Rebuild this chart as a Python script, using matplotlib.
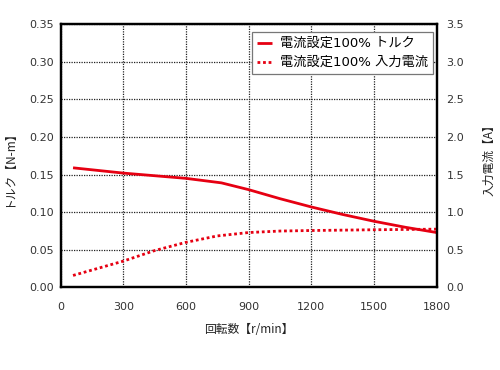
import matplotlib
matplotlib.use("Agg")
import matplotlib.pyplot as plt
from matplotlib.ticker import FixedLocator, FormatStrFormatter

plt.rcParams['font.family'] = ['Noto Sans CJK JP', 'DejaVu Sans']

# Data
speed_torque = [60, 300, 600, 770, 900, 1050, 1200, 1350, 1500, 1650, 1800]
torque = [0.159, 0.152, 0.145, 0.139, 0.130, 0.118, 0.107, 0.097, 0.088, 0.080, 0.073]

speed_current = [60, 300, 450, 600, 750, 900, 1050, 1200, 1500, 1800]
current = [0.16, 0.35, 0.49, 0.60, 0.685, 0.73, 0.75, 0.757, 0.767, 0.775]

xticks = [0, 300, 600, 900, 1200, 1500, 1800]
yticks_left = [0.00, 0.05, 0.10, 0.15, 0.20, 0.25, 0.30, 0.35]
yticks_right = [0.0, 0.5, 1.0, 1.5, 2.0, 2.5, 3.0, 3.5]

label_torque = '電流設定100% トルク'
label_current = '電流設定100% 入力電流'
xlabel = '回転数【r/min】'
ylabel_left = 'トルク【N-m】'
ylabel_right = '入力電流【A】'

red = '#e60012'
latin_first = ['DejaVu Sans', 'Noto Sans CJK JP']

fig = plt.figure(figsize=(5, 3.7), dpi=100)
ax = fig.add_axes([0.121, 0.223, 0.7524, 0.712])
ax2 = ax.twinx()

l1, = ax.plot(speed_torque, torque, color=red, lw=2.0, solid_capstyle='butt')
l2, = ax2.plot(speed_current, current, color=red, lw=2.0, linestyle=(0, (1, 1)))

ax.set_xlim(0, 1800)
ax.set_ylim(0, 0.35)
ax2.set_ylim(0, 3.5)
ax.xaxis.set_major_locator(FixedLocator(xticks))
ax.yaxis.set_major_locator(FixedLocator(yticks_left))
ax2.yaxis.set_major_locator(FixedLocator(yticks_right))
ax.yaxis.set_major_formatter(FormatStrFormatter('%.2f'))
ax2.yaxis.set_major_formatter(FormatStrFormatter('%.1f'))

ax.grid(True, color='#222222', linestyle=(0, (1, 1)), linewidth=0.9)
ax.set_axisbelow(True)

ax.tick_params(axis='x', length=0, pad=10.5, labelsize=8, colors='#333333')
ax.tick_params(axis='y', length=0, pad=5, labelsize=8, colors='#333333')
ax2.tick_params(axis='y', length=0, pad=7, labelsize=8, colors='#333333')
for lab in ax.get_xticklabels() + ax.get_yticklabels() + ax2.get_yticklabels():
    lab.set_family(latin_first)

for a in (ax, ax2):
    for s in a.spines.values():
        s.set_linewidth(1.6)
        s.set_color('black')

ax.set_xlabel(xlabel, fontsize=8.5, labelpad=8, color='#222222')
fig.text(9 / 500, 1 - 166 / 370, ylabel_left, rotation=90, ha='center', va='center',
         fontsize=8.5, color='#222222')
fig.text(489 / 500, 1 - 157 / 370, ylabel_right, rotation=90, ha='center', va='center',
         fontsize=8.5, color='#222222')

leg = ax2.legend([l1, l2], [label_torque, label_current], loc='upper right',
                 bbox_to_anchor=(0.99, 0.97), frameon=True, fancybox=False,
                 prop={'family': latin_first, 'size': 9.5},
                 edgecolor='#777777', framealpha=1, handlelength=1.15, handletextpad=0.55,
                 borderpad=0.4, labelspacing=0.45, borderaxespad=0)
leg.get_frame().set_linewidth(0.9)

fig.savefig('out.png', dpi=100)
